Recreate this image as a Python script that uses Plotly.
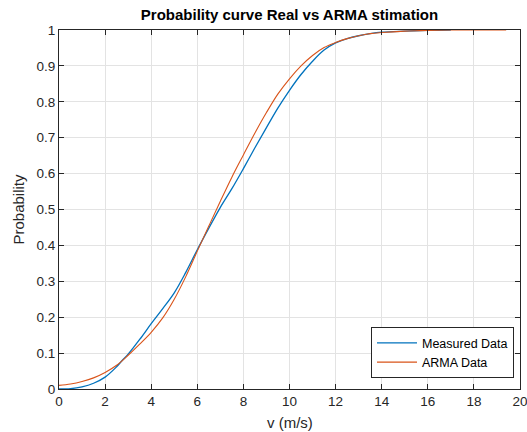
import plotly.graph_objects as go

# Measured data (blue)
meas_x = [0, 0.5, 1, 1.5, 2, 2.5, 2.75, 3, 3.5, 4, 4.5, 5, 5.5, 6, 6.5, 7, 7.5, 8,
          8.5, 9, 9.5, 10, 10.5, 11, 11.5, 12, 12.5, 13, 13.5, 14, 15, 16, 17]
meas_y = [0, 0.001, 0.006, 0.016, 0.033, 0.062, 0.080, 0.097, 0.138, 0.182, 0.224, 0.268,
          0.325, 0.388, 0.448, 0.506, 0.558, 0.614, 0.672, 0.728, 0.783, 0.832, 0.876,
          0.913, 0.944, 0.964, 0.976, 0.984, 0.990, 0.994, 0.997, 0.999, 1.0]

# ARMA estimation (orange)
arma_x = [0, 0.5, 1, 1.5, 2, 2.5, 3, 3.5, 4, 4.5, 5, 5.5, 6, 6.5, 7, 7.5, 8, 8.5, 9,
          9.5, 10, 10.5, 11, 11.5, 12, 12.5, 13, 13.5, 14, 15, 16, 17, 18, 19.4]
arma_y = [0.010, 0.014, 0.021, 0.031, 0.046, 0.066, 0.094, 0.125, 0.158, 0.198, 0.250,
          0.313, 0.384, 0.454, 0.523, 0.590, 0.652, 0.713, 0.770, 0.822, 0.864, 0.900,
          0.929, 0.951, 0.965, 0.976, 0.984, 0.990, 0.993, 0.997, 0.999, 1.0, 1.0, 1.0]

x_ticks = list(range(0, 21, 2))
y_ticks = [round(i * 0.1, 1) for i in range(11)]
y_tick_text = ["0", "0.1", "0.2", "0.3", "0.4", "0.5", "0.6", "0.7", "0.8", "0.9", "1"]

FONT = "Liberation Sans, Arial, sans-serif"
AX = "#262626"
GRID = "#e3e3e3"

fig = go.Figure()
fig.add_trace(go.Scatter(x=meas_x, y=meas_y, mode="lines", name="Measured Data",
                         line=dict(color="#0072BD", width=1.3), line_shape="spline"))
fig.add_trace(go.Scatter(x=arma_x, y=arma_y, mode="lines", name="ARMA Data",
                         line=dict(color="#D95319", width=1.1), line_shape="spline"))

axis_common = dict(
    showline=True, linecolor=AX, linewidth=1, mirror="ticks",
    ticks="inside", ticklen=5, tickcolor=AX, tickwidth=1,
    showgrid=True, gridcolor=GRID, gridwidth=1, zeroline=False,
    automargin=False, ticklabeloverflow="allow",
    tickfont=dict(family=FONT, size=13.5, color=AX),
)

fig.update_layout(
    width=527, height=432,
    margin=dict(l=59, r=7, t=30, b=43),
    paper_bgcolor="white", plot_bgcolor="white",
    title=dict(text="<b>Probability curve Real vs ARMA stimation</b>",
               x=0.5, xref="paper", xanchor="center",
               y=1 - 15 / 432, yref="container", yanchor="middle",
               font=dict(family=FONT, size=15, color="#000000")),
    xaxis=dict(range=[0, 20], tickvals=x_ticks, **axis_common),
    yaxis=dict(range=[0, 1], tickvals=y_ticks, ticktext=y_tick_text, **axis_common),
    legend=dict(x=0.987, y=0.03, xanchor="right", yanchor="bottom",
                bgcolor="white", bordercolor=AX, borderwidth=1,
                font=dict(family=FONT, size=12.5, color="#000000"),
                tracegroupgap=0, itemwidth=40),
    showlegend=True,
    annotations=[
        dict(text="v (m/s)", xref="paper", yref="paper", x=0.5, y=-34 / 359,
             xanchor="center", yanchor="middle", showarrow=False,
             font=dict(family=FONT, size=15, color=AX)),
        dict(text="Probability", xref="paper", yref="paper", x=-41 / 461, y=0.5,
             xanchor="center", yanchor="middle", showarrow=False, textangle=-90,
             font=dict(family=FONT, size=15, color=AX)),
    ],
)

fig.write_html("out.html")
